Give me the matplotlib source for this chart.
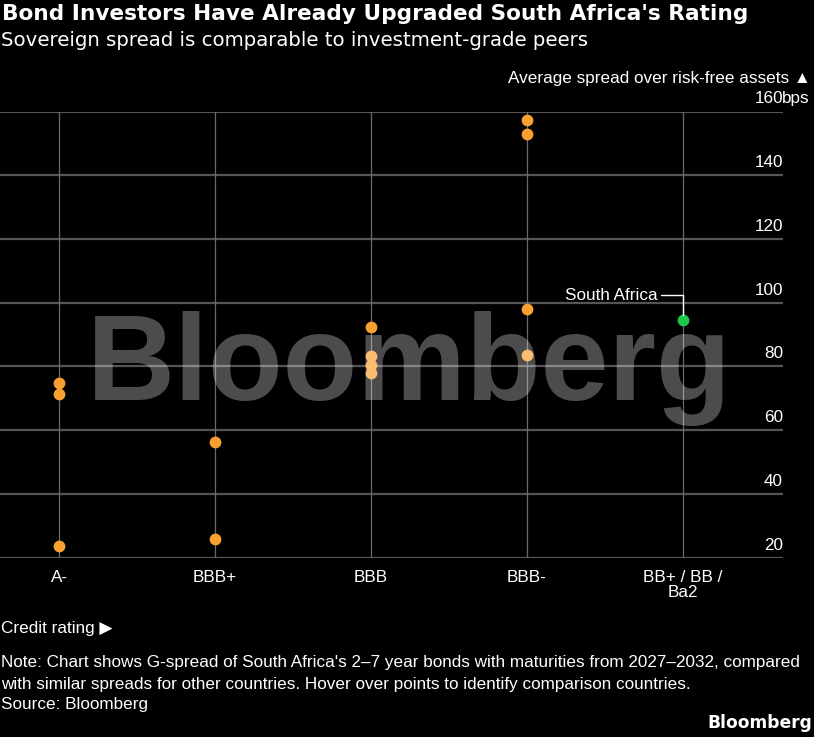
import matplotlib
matplotlib.use("Agg")
import matplotlib.pyplot as plt
import matplotlib.font_manager as fm
from matplotlib.transforms import blended_transform_factory

# ---- data ----
categories = ["A-", "BBB+", "BBB", "BBB-", "BB+ / BB /\nBa2"]
peer_cat = [0, 0, 0, 1, 1, 2, 2, 2, 2, 3, 3, 3, 3]
peer_spread = [74.7, 71.3, 23.8, 56.2, 26.0, 92.3, 83.3, 80.6, 77.9, 157.3, 153.0, 98.1, 83.7]
sa_cat = [4]
sa_spread = [94.5]
yticks = [20, 40, 60, 80, 100, 120, 140, 160]

# pick a narrow body font if available
avail = {f.name for f in fm.fontManager.ttflist}
if "Liberation Sans Narrow" in avail:
    BODY = ["Liberation Sans Narrow", "DejaVu Sans"]
    FS = 13.5
else:
    BODY = ["Liberation Sans", "DejaVu Sans"]
    FS = 12.3
plt.rcParams['font.family'] = BODY

W, H = 814, 737
fig = plt.figure(figsize=(W / 100, H / 100), dpi=100, facecolor="black")

ax = fig.add_axes([0, 1 - 557.7 / H, 783 / W, (557.7 - 111.5) / H])
ax.set_facecolor("black")
ax.set_xlim(-59 / 156, (783 - 59) / 156)
ax.set_ylim(20, 160)
for s in ax.spines.values():
    s.set_visible(False)
ax.set_xticks([])
ax.set_yticks([])

for yv in yticks:
    ax.axhline(yv, color="#555555", lw=1.6, zorder=1)
for i in range(len(categories)):
    ax.axvline(i, color="#6a6a6a", lw=0.9, zorder=1)

ax.scatter(peer_cat, peer_spread, s=72, color="#f9a031", zorder=3, clip_on=False, linewidths=0)
ax.scatter(sa_cat, sa_spread, s=72, color="#1ec94a", zorder=3, clip_on=False, linewidths=0)

# y tick labels above gridlines
tr = blended_transform_factory(ax.transAxes, ax.transData)
for yv in yticks:
    ax.text(1, yv + 1.6, str(yv), transform=tr, ha="right", va="bottom",
            color="white", fontsize=FS)
ax.text(0.999, 160 + 1.6, "bps", transform=tr, ha="left", va="bottom", color="white", fontsize=FS)
ax.text(1.0 + 28 / 783, 160 + 8.0, "Average spread over risk-free assets ▲", transform=tr,
        ha="right", va="bottom", color="white", fontsize=FS)

# x tick labels
trx = blended_transform_factory(ax.transData, ax.transAxes)
for i, c in enumerate(categories):
    ax.text(i, -0.028, c, transform=trx, ha="center", va="top", color="white",
            fontsize=FS, linespacing=1.0)

# South Africa annotation
ax.annotate("South Africa", xy=(sa_cat[0], sa_spread[0]), xytext=(sa_cat[0] - 0.165, 102.4),
            color="white", fontsize=FS, ha="right", va="center",
            arrowprops=dict(arrowstyle="-", color="white", lw=1,
                            connectionstyle="angle,angleA=0,angleB=90,rad=0",
                            shrinkA=1, shrinkB=4))

# watermark on top
fig.text(87 / W, 1 - 400 / H, "Bloomberg", fontsize=88, fontweight="bold",
         family="Liberation Sans", color="white", alpha=0.3, ha="left", va="baseline",
         zorder=10)

# titles
fig.text(2 / W, 1 - 14 / H, "Bond Investors Have Already Upgraded South Africa's Rating",
         family="DejaVu Sans", fontweight="bold", fontsize=15.6, color="white",
         ha="left", va="center")
fig.text(1 / W, 1 - 40 / H, "Sovereign spread is comparable to investment-grade peers",
         family="DejaVu Sans", fontsize=14.2, color="white", ha="left", va="center")

fig.text(1 / W, 1 - 629 / H, "Credit rating ▶", color="white", fontsize=FS, ha="left", va="center")
fig.text(1 / W, 1 - 663 / H,
         "Note: Chart shows G-spread of South Africa's 2–7 year bonds with maturities from 2027–2032, compared",
         color="white", fontsize=FS, ha="left", va="center")
fig.text(1 / W, 1 - 684 / H,
         "with similar spreads for other countries. Hover over points to identify comparison countries.",
         color="white", fontsize=FS, ha="left", va="center")
fig.text(1 / W, 1 - 704 / H, "Source: Bloomberg", color="white", fontsize=FS, ha="left", va="center")
fig.text(812 / W, 1 - 723 / H, "Bloomberg", color="white", fontsize=FS, fontweight="bold",
         family="DejaVu Sans", ha="right", va="center")

fig.savefig("out.png", dpi=100, facecolor="black")
